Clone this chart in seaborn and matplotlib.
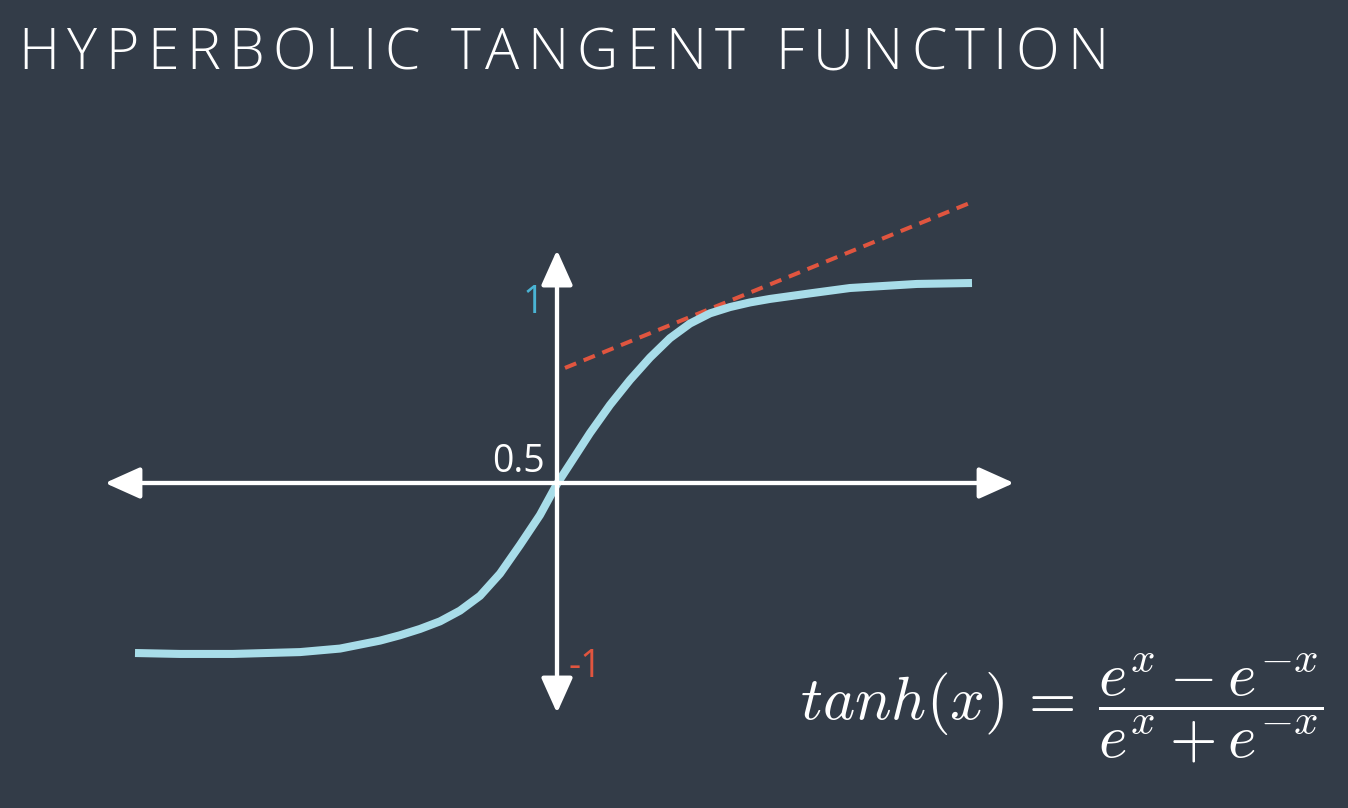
import numpy as np
import pandas as pd
import matplotlib
matplotlib.use("Agg")
import matplotlib.pyplot as plt
import seaborn as sns

# ------------------------------
# Data
# ------------------------------
curve_x = [-4.22, -3.77, -3.24, -2.57, -2.17, -1.77, -1.57, -1.37, -1.17, -0.97,
           -0.77, -0.57, -0.37, -0.17, 0.00, 0.13, 0.33, 0.53, 0.73, 0.93,
           1.13, 1.33, 1.53, 1.73, 1.93, 2.13, 2.53, 2.93, 3.60, 4.15]
curve_y = [-0.919, -0.924, -0.924, -0.914, -0.895, -0.852, -0.823, -0.789, -0.748, -0.690,
           -0.610, -0.490, -0.335, -0.173, -0.005, 0.103, 0.270, 0.422, 0.557, 0.678,
           0.783, 0.862, 0.917, 0.951, 0.976, 0.995, 1.025, 1.054, 1.076, 1.081]

tangent_x = [0.08, 4.13]
tangent_y = [0.622, 1.514]

axis_x = [-4.52, 4.57]
axis_y = [-1.243, 1.259]

tick_labels = ["1", "0.5", "-1"]
tick_pos = [(-0.13, 0.92), (-0.12, 0.06), (0.11, -1.05)]

title = "HYPERBOLIC TANGENT FUNCTION"
formula = r"$tanh(x)\,=\:\dfrac{e^x - e^{-x}}{e^x + e^{-x}}$"

# ------------------------------
# Style
# ------------------------------
bg = "#333c48"
curve_col = "#a8dde9"
red = "#e0553f"
blue = "#4ab4d4"

sns.set_theme(style="dark", rc={"axes.facecolor": bg, "figure.facecolor": bg})
plt.rcParams["font.family"] = ["Open Sans", "DejaVu Sans"]
plt.rcParams["mathtext.fontset"] = "cm"

W, H = 1348, 808
fig = plt.figure(figsize=(W / 100, H / 100), dpi=100)
ax = fig.add_axes([0, 0, 1, 1])
# origin sits at pixel (557, 483); 100 px per x unit, 185 px per y unit
ax.set_xlim(-557 / 100, (W - 557) / 100)
ax.set_ylim(-(H - 483) / 185, 483 / 185)
ax.set_axis_off()

# axes arrows
arrow_kw = dict(arrowstyle="<|-|>,head_length=21.6,head_width=9.7",
                mutation_scale=1, color="white", lw=3.1,
                shrinkA=0, shrinkB=0)
ax.annotate("", xy=(axis_x[1], 0), xytext=(axis_x[0], 0), arrowprops=arrow_kw)
ax.annotate("", xy=(0, axis_y[1]), xytext=(0, axis_y[0]), arrowprops=arrow_kw)

# tangent and curve
ax.plot(tangent_x, tangent_y, color=red, lw=2.9, dashes=(3, 2), solid_capstyle="butt")
df = pd.DataFrame({"x": curve_x, "y": curve_y})
sns.lineplot(data=df, x="x", y="y", ax=ax, color=curve_col, lw=5.8,
             estimator=None, sort=False)
ax.lines[-1].set_solid_capstyle("butt")
ax.lines[-1].set_solid_joinstyle("round")

# tick labels
label_cols = [blue, "white", red]
label_ha = ["right", "right", "left"]
for lab, (lx, ly), c, ha in zip(tick_labels, tick_pos, label_cols, label_ha):
    ax.text(lx, ly, lab, color=c, fontsize=27, ha=ha, va="baseline")

# formula
fig.text(800 / W, 1 - 719 / H, formula, color="white", fontsize=44,
         ha="left", va="baseline")

# title with letter spacing
renderer = fig.canvas.get_renderer()
tkw = dict(fontsize=41, color="white", fontweight="light", va="baseline", ha="left")


def text_w(s):
    t = fig.text(0, 0, s, **tkw)
    w = t.get_window_extent(renderer).width
    t.remove()
    return w


x0, x1, base = 18, 1108, 69
full_w = text_w(title)
track = (x1 - x0 - full_w) / (len(title) - 1)
for i, ch in enumerate(title):
    if ch == " ":
        continue
    left = x0 + text_w(title[:i + 1]) - text_w(ch) + i * track
    fig.text(left / W, 1 - base / H, ch, **tkw)

plt.savefig("out.png", dpi=100, facecolor=bg)
